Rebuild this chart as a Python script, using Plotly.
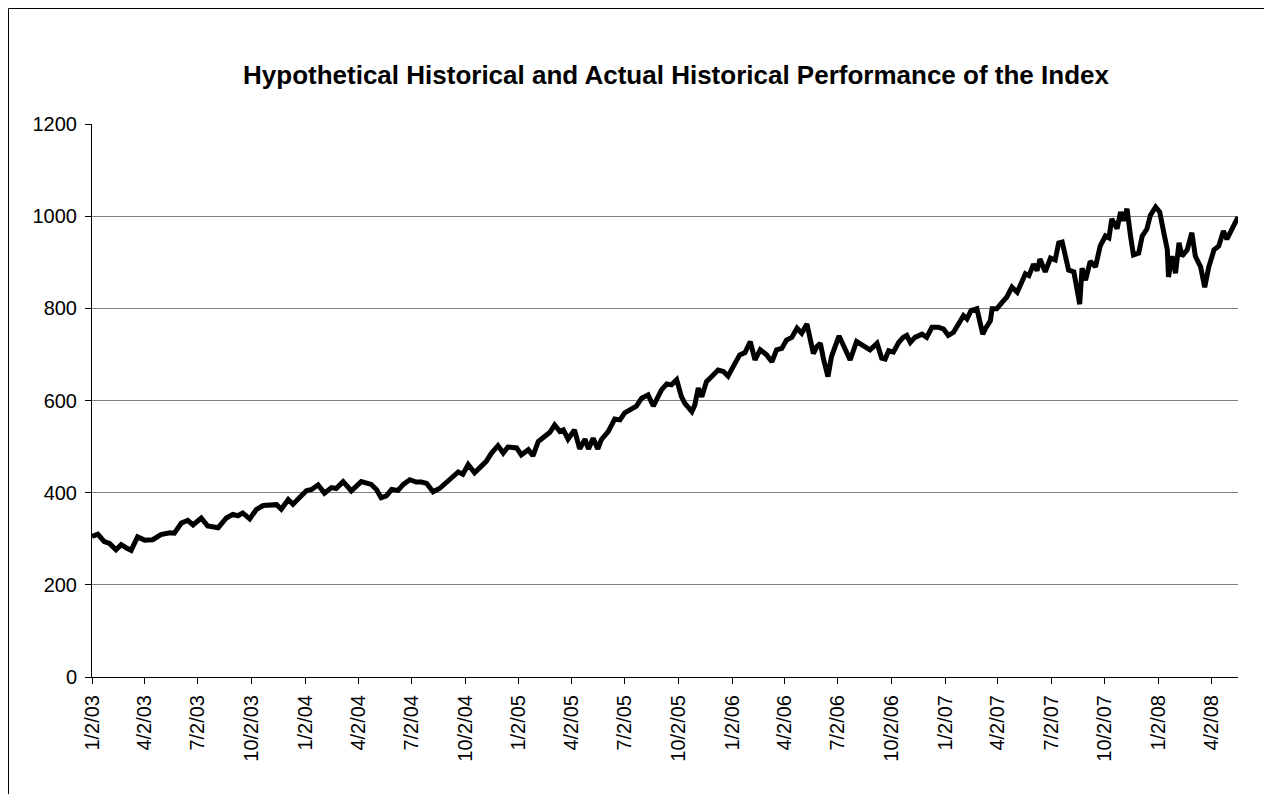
import pandas as pd
import plotly.graph_objects as go

# ---- data ----
start_date = "2003-01-02"

day_offsets = [
    0, 10, 21, 30, 41, 50, 59, 67, 78, 90, 104, 118, 133, 141, 153, 164, 173, 187, 198, 216,
    230, 241, 250, 258, 270, 281, 293, 304, 316, 324, 336,
    344, 356, 367, 376, 387, 398, 410, 418, 430, 444, 461, 478, 487, 495, 504, 513, 524, 533, 544, 555,
    564, 573, 584, 595, 607, 615, 627, 635, 644, 655, 667,
    675, 684, 695, 704, 712, 727, 735, 747, 755, 764, 775, 784, 792, 801, 807, 815, 826, 835, 844, 850,
    858, 866, 872, 884, 895, 904, 912, 924, 932, 941, 952, 961, 969, 975, 984, 992, 1001, 1009,
    1015, 1021, 1027, 1032, 1038, 1044, 1052, 1061, 1072, 1081, 1089, 1101, 1109, 1118, 1127, 1135,
    1144, 1155, 1164, 1172, 1181, 1189, 1198, 1207, 1215, 1224, 1229, 1235, 1241, 1247, 1252, 1260,
    1266, 1272, 1279, 1286, 1298, 1309, 1321, 1332, 1344, 1352,
    1358, 1364, 1372, 1381, 1389, 1395, 1401, 1409, 1421, 1429, 1438, 1449, 1458, 1466, 1475, 1484,
    1492, 1498, 1505, 1515, 1520, 1525, 1531, 1538, 1541, 1549, 1558, 1566, 1575, 1584, 1589, 1598,
    1604, 1612, 1618, 1623,
    1632, 1641, 1649, 1655, 1661, 1666, 1672, 1681, 1686, 1691, 1695, 1701, 1709, 1718, 1726, 1735,
    1741, 1746, 1755, 1761, 1766, 1772, 1778, 1783, 1792, 1798, 1806, 1812, 1821, 1828, 1835, 1841,
    1843, 1849, 1855, 1861, 1866, 1875, 1883, 1889, 1898, 1905, 1912, 1921, 1929, 1937, 1943, 1952,
    1958, 1962,
]

index_values = [
    305, 310, 294, 290, 276, 287, 280, 275, 304, 297, 298, 309, 313, 312, 334, 340, 330, 345, 328, 324,
    345, 353, 350, 356, 343, 363, 372, 372, 374, 364, 385,
    375, 389, 404, 407, 417, 399, 411, 409, 424, 404, 424, 418, 407, 389, 393, 407, 405, 418, 428, 423,
    423, 420, 402, 409, 422, 433, 445, 440, 461, 443, 459,
    468, 486, 502, 486, 499, 497, 482, 493, 480, 511, 521, 531, 547, 533, 536, 516, 536, 495, 516, 495,
    518, 495, 515, 533, 560, 558, 573, 583, 588, 605, 612, 588, 609, 623, 636, 634, 645, 609,
    594, 583, 576, 590, 627, 608, 641, 652, 666, 663, 653, 681, 699, 704, 728, 688,
    710, 699, 684, 710, 713, 731, 737, 757, 746, 766, 739, 702, 717, 724, 692, 652,
    695, 717, 740, 721, 688, 728, 717, 710, 724, 692,
    690, 708, 705, 726, 737, 741, 726, 737, 744, 737, 759, 759, 755, 741, 748, 766,
    784, 777, 795, 799, 773, 744, 759, 773, 799, 799, 813, 824, 846, 835, 849, 875,
    871, 896, 882, 907,
    879, 909, 905, 942, 944, 916, 883, 879, 850, 809, 887, 861, 902, 890, 935, 957,
    953, 994, 973, 1009, 990, 1016, 957, 916, 920, 957, 972, 1002, 1020, 1009, 964, 927,
    868, 913, 876, 942, 913, 927, 964, 913, 890, 846, 890, 927, 935, 968, 950, 972,
    990, 998,
]

tick_dates = [
    "2003-01-02", "2003-04-02", "2003-07-02", "2003-10-02",
    "2004-01-02", "2004-04-02", "2004-07-02", "2004-10-02",
    "2005-01-02", "2005-04-02", "2005-07-02", "2005-10-02",
    "2006-01-02", "2006-04-02", "2006-07-02", "2006-10-02",
    "2007-01-02", "2007-04-02", "2007-07-02", "2007-10-02",
    "2008-01-02", "2008-04-02",
]
tick_labels = [
    "1/2/03", "4/2/03", "7/2/03", "10/2/03",
    "1/2/04", "4/2/04", "7/2/04", "10/2/04",
    "1/2/05", "4/2/05", "7/2/05", "10/2/05",
    "1/2/06", "4/2/06", "7/2/06", "10/2/06",
    "1/2/07", "4/2/07", "7/2/07", "10/2/07",
    "1/2/08", "4/2/08",
]
y_ticks = [0, 200, 400, 600, 800, 1000, 1200]

title_text = "Hypothetical Historical and Actual Historical Performance of the Index"

# ---- figure ----
dates = pd.to_datetime(start_date) + pd.to_timedelta(day_offsets, unit="D")

# page body has an 8px margin, so the figure is sized to fit inside the window
W, H = 1264, 786
ML, MR, MT, MB = 84, 34, 116, 117
font_family = "Liberation Sans, Arial, sans-serif"

fig = go.Figure(
    go.Scatter(
        x=dates,
        y=index_values,
        mode="lines",
        line=dict(color="black", width=5),
        hoverinfo="x+y",
        showlegend=False,
    )
)

pw = W - ML - MR
ph = H - MT - MB


def px_to_paper_x(px):
    return (px - ML) / pw


def px_to_paper_y(py):
    return (H - MB - py) / ph


fig.update_layout(
    width=W,
    height=H,
    margin=dict(l=ML, r=MR, t=MT, b=MB, pad=0),
    paper_bgcolor="white",
    plot_bgcolor="white",
    font=dict(family=font_family, color="black", size=20),
    title=dict(
        text=f"<b>{title_text}</b>",
        x=668 / W,
        xref="container",
        xanchor="center",
        y=1 - 67 / H,
        yref="container",
        yanchor="middle",
        font=dict(family=font_family, size=26, color="black"),
    ),
    xaxis=dict(
        type="date",
        range=[dates[0], dates[-1]],
        tickmode="array",
        tickvals=tick_dates,
        ticktext=tick_labels,
        tickangle=-90,
        ticks="outside",
        ticklen=6,
        tickcolor="black",
        tickwidth=1,
        ticklabelstandoff=3,
        showline=True,
        linecolor="black",
        linewidth=1,
        showgrid=False,
        zeroline=False,
        tickfont=dict(family=font_family, size=20, color="black"),
    ),
    yaxis=dict(
        range=[0, 1200],
        tickmode="array",
        tickvals=y_ticks,
        ticks="outside",
        ticklen=6,
        tickcolor="black",
        tickwidth=1,
        ticklabelstandoff=4,
        showline=True,
        linecolor="black",
        linewidth=1,
        showgrid=True,
        gridcolor="#808080",
        gridwidth=1,
        zeroline=False,
        tickfont=dict(family=font_family, size=20, color="black"),
    ),
    shapes=[
        dict(
            type="rect",
            xref="paper",
            yref="paper",
            x0=px_to_paper_x(0.5),
            x1=px_to_paper_x(1257.5),
            y0=px_to_paper_y(800),
            y1=px_to_paper_y(0.5),
            line=dict(color="black", width=1),
            fillcolor="rgba(0,0,0,0)",
            layer="below",
        )
    ],
)

fig.write_html("out.html")
